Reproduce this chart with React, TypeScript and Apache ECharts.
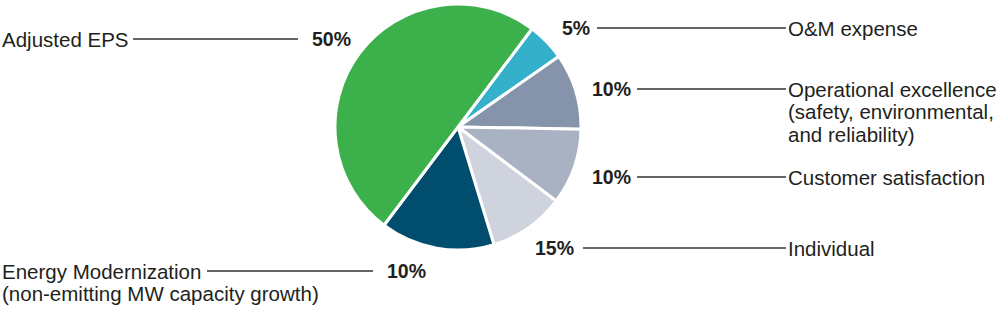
import React, { useEffect, useRef } from "react";
import * as echarts from "echarts";

const names = [
  "O&M expense",
  "Operational excellence\n(safety, environmental,\nand reliability)",
  "Customer satisfaction",
  "Energy Modernization\n(non-emitting MW capacity growth)",
  "Individual",
  "Adjusted EPS",
];
const values = [5, 10, 10, 10, 15, 50];
const colors = ["#35B0CB", "#8594AA", "#A8B2C3", "#CED3DD", "#004D6E", "#3CB04B"];

// label placement: [side, percentX, lineX1, lineX2, nameX, y]
const labelLayout: Array<[string, number, number, number, number, number]> = [
  ["right", 562, 597, 786, 788, 28],
  ["right", 592, 637, 786, 788, 89],
  ["right", 592, 637, 786, 788, 177],
  ["left", 387, 207, 373, 2, 271],
  ["right", 535, 583, 786, 788, 248],
  ["left", 312, 133, 298, 2, 39],
];

const TEXT = "#231F20";
const FONT = "Liberation Sans, Arial, sans-serif";

export default function App() {
  const ref = useRef<HTMLDivElement>(null);
  useEffect(() => {
    if (!ref.current) return;
    const chart = echarts.init(ref.current, null, { renderer: "svg" });
    const graphics: any[] = [];
    names.forEach((n, i) => {
      const [, px, lx1, lx2, nx, y] = labelLayout[i];
      graphics.push({
        type: "line",
        shape: { x1: lx1, y1: y, x2: lx2, y2: y },
        style: { stroke: "#333", lineWidth: 1.6 },
      });
      graphics.push({
        type: "text",
        x: px,
        y: y,
        style: {
          text: values[i] + "%",
          font: `bold 19.5px ${FONT}`,
          fill: TEXT,
          verticalAlign: "middle",
          align: "left",
        },
      });
      graphics.push({
        type: "text",
        x: nx,
        y: y - 11.25,
        style: {
          text: n,
          font: `20.5px ${FONT}`,
          fill: TEXT,
          lineHeight: 22.5,
          verticalAlign: "top",
          align: "left",
        },
      });
    });
    chart.setOption({
      animation: false,
      backgroundColor: "#fff",
      series: [
        {
          type: "pie",
          center: [458, 127],
          radius: 123,
          startAngle: 53,
          clockwise: true,
          label: { show: false },
          labelLine: { show: false },
          emphasis: { disabled: true },
          itemStyle: { borderColor: "#fff", borderWidth: 3 },
          data: names.map((n, i) => ({
            name: n,
            value: values[i],
            itemStyle: { color: colors[i] },
          })),
        },
      ],
      graphic: graphics,
    });
    return () => chart.dispose();
  }, []);
  return (
    <div
      ref={ref}
      style={{ position: "fixed", left: 0, top: 0, width: 999, height: 312 }}
    />
  );
}
